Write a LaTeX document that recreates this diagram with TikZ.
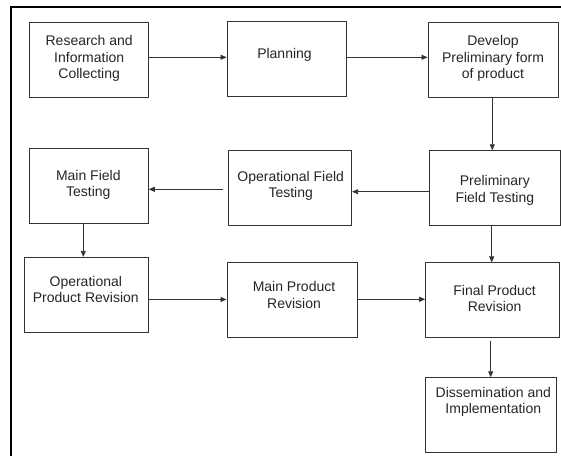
\documentclass[tikz,border=0pt]{standalone}
\usepackage{fontspec}
\setmainfont{Liberation Sans}
\usetikzlibrary{arrows.meta}
\tikzset{
  box/.style={draw=black!80, line width=0.9pt, inner sep=0pt},
  txt/.style={align=center, inner sep=0pt, text=black!85, font=\fontsize{14}{16.5}\selectfont},
  arr/.style={draw=black!80, line width=0.8pt, -{Triangle[length=6pt,width=5pt]}},
  frame/.style={draw=black, line width=2pt}
}
\begin{document}
\begin{tikzpicture}[x=1pt,y=-1pt]
\useasboundingbox (0,0) rectangle (561,455);
\fill[white] (0,0) rectangle (561,455);
\coordinate (fa) at (11,456);
\coordinate (fb) at (11,7.3);
\coordinate (fc) at (562,7.3);
\draw[frame] (fa) -- (fb) -- (fc);

% boxes
\node[box, minimum width=119pt, minimum height=74.6pt] (b1) at (88.8,60) {};
\node[box, minimum width=119pt, minimum height=75pt] (b2) at (286.5,58.8) {};
\node[box, minimum width=130pt, minimum height=74.6pt] (b3) at (493,60) {};
\node[box, minimum width=119pt, minimum height=74.7pt] (b4) at (88.8,185.7) {};
\node[box, minimum width=123.7pt, minimum height=74.6pt] (b5) at (289.8,188) {};
\node[box, minimum width=131pt, minimum height=74.6pt] (b6) at (494.5,188) {};
\node[box, minimum width=124pt, minimum height=75.4pt] (b7) at (86.3,295) {};
\node[box, minimum width=130.7pt, minimum height=74.6pt] (b8) at (292.3,300) {};
\node[box, minimum width=133.3pt, minimum height=74.3pt] (b9) at (492.3,300) {};
\node[box, minimum width=131pt, minimum height=75pt] (b10) at (490.5,415.2) {};

% texts
\node[txt] (t1) at (89.2,58.5) {Research and\\Information\\Collecting};
\node[txt] (t2) at (284.5,54.8) {Planning};
\node[txt] (t3) at (493,58.5) {Develop\\Preliminary form\\of product};
\node[txt] (t4) at (88.3,184.7) {Main Field\\Testing};
\node[txt] (t5) at (290.7,186) {Operational Field\\Testing};
\node[txt] (t6) at (494.8,190.3) {Preliminary\\Field Testing};
\node[txt] (t7) at (85.8,289.7) {Operational\\Product Revision};
\node[txt] (t8) at (294,295) {Main Product\\Revision};
\node[txt] (t9) at (494.6,298.3) {Final Product\\Revision};
\node[txt] (t10) at (493.3,401.7) {Dissemination and\\Implementation};

% connectors
\draw[arr] ([yshift=2.7pt]b1.east) -- ([yshift=2.7pt]b1.east -| b2.west);
\draw[arr] ([yshift=1.5pt]b2.east) -- ([yshift=1.5pt]b2.east -| b3.west);
\draw[arr] ([xshift=-0.7pt]b3.south) -- ([xshift=-0.7pt]b3.south |- b6.north);
\draw[arr] ([yshift=-3.7pt]b6.west) -- ([yshift=-3.7pt]b6.west -| b5.east);
\draw[arr, shorten <=5pt] ([yshift=-1.3pt]b5.west) -- ([yshift=-1.3pt]b5.west -| b4.east);
\draw[arr] ([xshift=-5.5pt]b4.south) -- ([xshift=-5.5pt]b4.south |- b7.north);
\draw[arr] ([xshift=-2.8pt]b6.south) -- ([xshift=-2.8pt]b6.south |- b9.north);
\draw[arr] ([yshift=-4.5pt]b7.east) -- ([yshift=-4.5pt]b7.east -| b8.west);
\draw[arr] ([yshift=0.7pt]b8.east) -- ([yshift=0.7pt]b8.east -| b9.west);
\draw[arr, shorten <=3pt] ([xshift=-1.6pt]b9.south) -- ([xshift=-1.6pt]b9.south |- b10.north);
\end{tikzpicture}
\end{document}
